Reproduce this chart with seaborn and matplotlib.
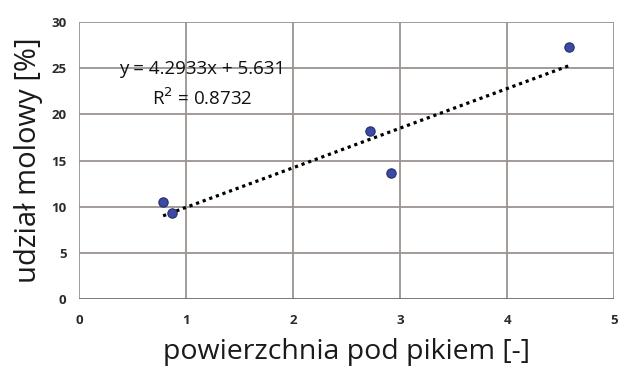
import numpy as np
import pandas as pd
import matplotlib
matplotlib.use("Agg")
import matplotlib.pyplot as plt
import seaborn as sns

# data
area = [0.785, 0.87, 2.72, 2.91, 4.58]
molar = [10.5, 9.3, 18.2, 13.65, 27.3]
slope, intercept = 4.2933, 5.631
r2 = 0.8732
xticks = [0, 1, 2, 3, 4, 5]
yticks = [0, 5, 10, 15, 20, 25, 30]

df = pd.DataFrame({"x": area, "y": molar})

sns.set_style("white")
plt.rcParams["font.family"] = ["Open Sans", "DejaVu Sans"]

fig = plt.figure(figsize=(6.18, 3.75), dpi=100)
ax = fig.add_axes([0.128, 0.203, 0.866, 0.738])

grid_c = "#9b938f"
for t in xticks:
    ax.axvline(t, color=grid_c, lw=1.3, zorder=1)
for t in yticks[1:]:
    ax.axhline(t, color=grid_c, lw=1.3, zorder=1)
ax.axhline(0, color="#6e6a68", lw=2.0, zorder=1)

# trend line
xl = np.array([min(area), max(area)])
trend = pd.DataFrame({"x": xl, "y": slope * xl + intercept})
sns.lineplot(data=trend, x="x", y="y", ax=ax, color="black", lw=2.3,
             linestyle=(0, (1, 1.2)), zorder=2)

sns.scatterplot(data=df, x="x", y="y", ax=ax, s=45, color="#3d4aa3",
                edgecolor="#232c6e", linewidth=0.8, zorder=3)

ax.set_xlim(0, 5)
ax.set_ylim(0, 30)
ax.set_xticks(xticks)
ax.set_yticks(yticks)
for s in ax.spines.values():
    s.set_visible(False)
ax.tick_params(axis="x", length=0, labelsize=9.5, colors="#2b2b2b", pad=11)
ax.tick_params(axis="y", length=0, labelsize=9.5, colors="#2b2b2b", pad=9)
for lab in ax.get_xticklabels() + ax.get_yticklabels():
    lab.set_fontweight("bold")

ax.set_xlabel("powierzchnia pod pikiem [-]", fontsize=20.5, color="#1a1a1a", labelpad=8)
ax.set_ylabel("udział molowy [%]", fontsize=21, color="#1a1a1a", labelpad=6)

ax.text(1.15, 24.9, "y = 4.2933x + 5.631", fontsize=13.5, ha="center", va="center", color="#111111")
ax.text(1.15, 21.8, "R$^2$ = 0.8732", fontsize=13.5, ha="center", va="center", color="#111111")

fig.savefig("out.png", dpi=100, facecolor="white")
